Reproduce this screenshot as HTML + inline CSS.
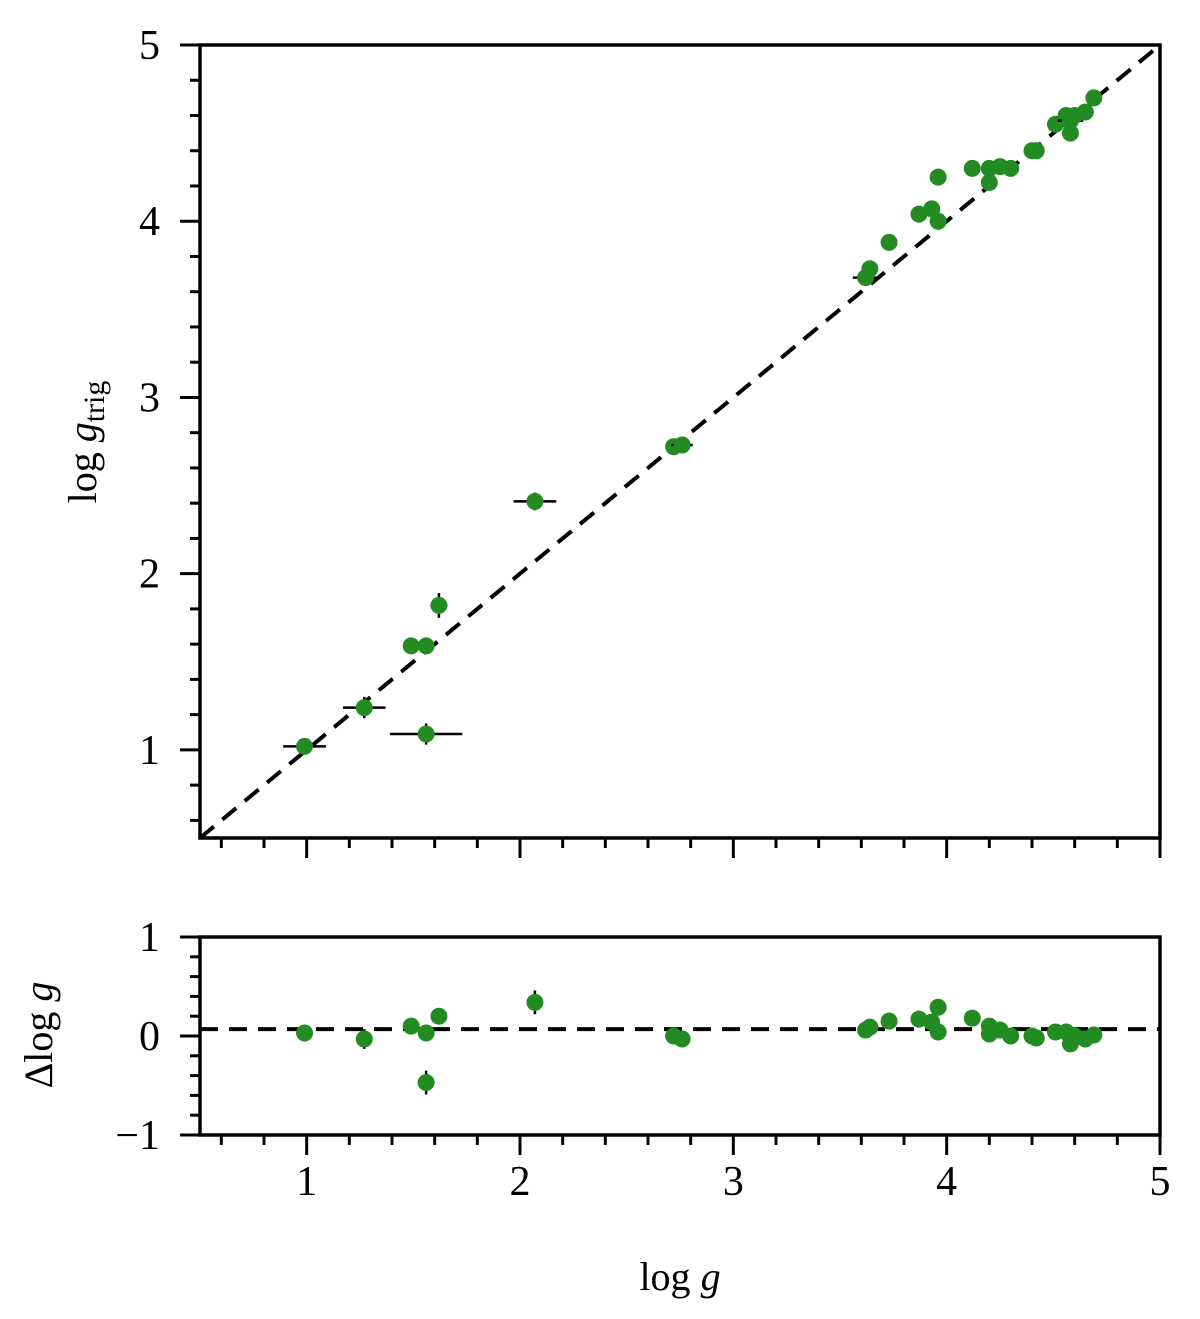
<!DOCTYPE html>
<html><head><meta charset="utf-8"><style>
body{margin:0;background:#fff}
svg text{font-family:"Liberation Serif",serif;fill:#000}
</style></head><body>
<svg id="chart" width="1200" height="1314" xmlns="http://www.w3.org/2000/svg"></svg>
<script>
const logg =  [0.99,1.27,1.56,1.49,1.56,1.62,2.07,2.72,2.76,3.62,3.64,3.73,3.87,3.93,3.96,3.96,4.12,4.20,4.20,4.25,4.30,4.40,4.42,4.51,4.56,4.58,4.58,4.60,4.65,4.69];
const loggTrig=[1.02,1.24,1.09,1.59,1.59,1.82,2.41,2.72,2.73,3.68,3.73,3.88,4.04,4.07,4.25,4.00,4.30,4.22,4.30,4.31,4.30,4.40,4.40,4.55,4.60,4.50,4.57,4.60,4.62,4.70];
const xErr =  [0.10,0.10,0.17,0.02,0.02,0.04,0.10,0.03,0.05,0.06,0.02,0.02,0.02,0.02,0.02,0.02,0.03,0.03,0.03,0.03,0.03,0.03,0.03,0.03,0.03,0.03,0.06,0.03,0.03,0.03];
const yErr =  [0.02,0.06,0.06,0.02,0.02,0.07,0.05,0.02,0.02,0.02,0.02,0.02,0.02,0.02,0.02,0.02,0.02,0.02,0.02,0.02,0.02,0.02,0.02,0.02,0.02,0.02,0.02,0.02,0.02,0.02];
const resErr =[0.08,0.10,0.12,0.05,0.05,0.08,0.12,0.04,0.04,0.04,0.04,0.04,0.04,0.04,0.04,0.04,0.04,0.04,0.04,0.04,0.04,0.04,0.04,0.04,0.04,0.04,0.04,0.04,0.04,0.04];
const meanOffset = 0.07;
const xTicks=[1,2,3,4,5], yTicks=[1,2,3,4,5], rTicks=[-1,0,1];
const rTickLabels=["\u22121","0","1"];

const svg=document.getElementById('chart');
const NS='http://www.w3.org/2000/svg';
function mk(tag,attrs,parent){const e=document.createElementNS(NS,tag);for(const k in attrs)e.setAttribute(k,attrs[k]);(parent||svg).appendChild(e);return e;}
const L=200,R=1160,T1=45,B1=838,T2=937,B2=1135;
const X=v=>L+(v-0.5)*(R-L)/4.5;
const Y=v=>B1-(v-0.5)*(B1-T1)/4.5;
const Y2=v=>B2-(v+1)*(B2-T2)/2;

const topPanel=mk('g',{});


const botPanel=mk('g',{});



const l1=mk('line',{x1:X(0.5),y1:Y(0.5),x2:X(5),y2:Y(5),stroke:'#000','stroke-width':4,'stroke-dasharray':'18,11'},topPanel);


const l2=mk('line',{x1:L,y1:Y2(meanOffset),x2:R,y2:Y2(meanOffset),stroke:'#000','stroke-width':4,'stroke-dasharray':'18,11'},botPanel);



for(let i=0;i<logg.length;i++){
  const x=logg[i],y=loggTrig[i],r=y-x;
  const g=mk('g',{},topPanel);
  
  
  mk('line',{x1:X(x-xErr[i]),x2:X(x+xErr[i]),y1:Y(y),y2:Y(y),stroke:'#000','stroke-width':2.5},g);
  mk('line',{x1:X(x),x2:X(x),y1:Y(y-yErr[i]),y2:Y(y+yErr[i]),stroke:'#000','stroke-width':2.5},g);
  mk('circle',{cx:X(x),cy:Y(y),r:8.5,fill:'#228b22'},g);
  const g2=mk('g',{},botPanel);
  
  
  mk('line',{x1:X(x),x2:X(x),y1:Y2(r-resErr[i]),y2:Y2(r+resErr[i]),stroke:'#000','stroke-width':2.5},g2);
  mk('circle',{cx:X(x),cy:Y2(r),r:8.5,fill:'#228b22'},g2);
}

const f1=mk('rect',{x:L,y:T1,width:R-L,height:B1-T1,fill:'none',stroke:'#000','stroke-width':3.5});


const f2=mk('rect',{x:L,y:T2,width:R-L,height:B2-T2,fill:'none',stroke:'#000','stroke-width':3.5});



for(let v=0.6;v<=5.001;v+=0.2){
  const vv=Math.round(v*10)/10;
  const major=Math.abs(vv-Math.round(vv))<1e-6;
  const len=major?20:10;
  mk('line',{x1:X(vv),x2:X(vv),y1:B1,y2:B1+len,stroke:'#000','stroke-width':3});
  mk('line',{x1:X(vv),x2:X(vv),y1:B2,y2:B2+len,stroke:'#000','stroke-width':3});
}
xTicks.forEach(v=>{
  const t=mk('text',{x:X(v),y:1195,'font-size':42,'text-anchor':'middle'});
  t.textContent=v;
  
  
});
for(let v=0.6;v<=5.001;v+=0.2){
  const vv=Math.round(v*10)/10;
  const major=Math.abs(vv-Math.round(vv))<1e-6;
  mk('line',{x1:L,x2:L-(major?20:10),y1:Y(vv),y2:Y(vv),stroke:'#000','stroke-width':3});
}
yTicks.forEach(v=>{
  const t=mk('text',{x:160,y:Y(v)+14,'font-size':42,'text-anchor':'end'});
  t.textContent=v;
  
  
});
for(let v=-1;v<=1.001;v+=0.2){
  const vv=Math.round(v*10)/10;
  const major=Math.abs(vv-Math.round(vv))<1e-6;
  mk('line',{x1:L,x2:L-(major?20:10),y1:Y2(vv),y2:Y2(vv),stroke:'#000','stroke-width':3});
}
rTicks.forEach((v,i)=>{
  const t=mk('text',{x:160,y:Y2(v)+14,'font-size':42,'text-anchor':'end'});
  t.textContent=rTickLabels[i];
  
  
});
</script>
<svg style="position:absolute;left:0;top:0" width="1200" height="1314">
<text x="680" y="1290" font-size="40" text-anchor="middle" font-family="Liberation Serif, serif">log <tspan font-style="italic">g</tspan></text>
<text transform="translate(96,442) rotate(-90)" font-size="40" text-anchor="middle" font-family="Liberation Serif, serif">log <tspan font-style="italic">g</tspan><tspan font-size="30" dy="8">trig</tspan></text>
<text transform="translate(52,1035) rotate(-90)" font-size="40" text-anchor="middle" font-family="Liberation Serif, serif">Δlog <tspan font-style="italic">g</tspan></text>
</svg>
</body></html>
